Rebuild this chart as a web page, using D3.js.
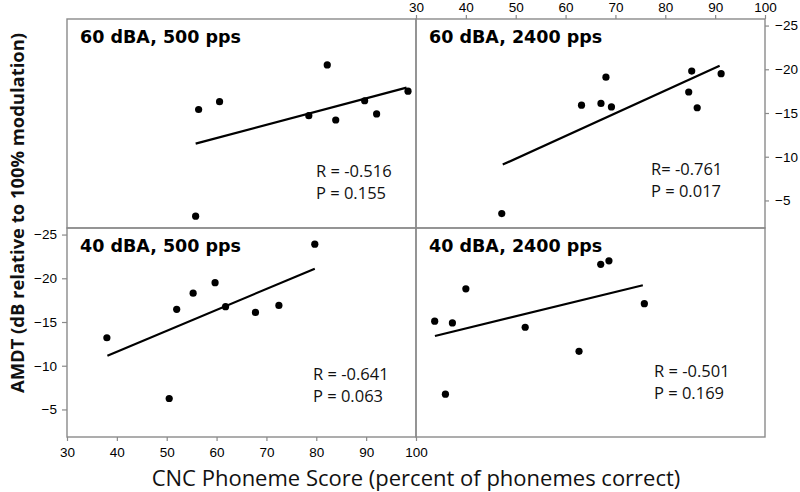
<!DOCTYPE html>
<html>
<head>
<meta charset="utf-8">
<script src="https://cdn.jsdelivr.net/npm/d3@7"></script>
<style>
  body { margin: 0; background: #fff; }
  svg { display: block; }
  .tick text { font-family: "Liberation Sans", Arial, sans-serif; font-size: 13.5px; fill: #000; }
  .tick line { stroke: #8a8a8a; stroke-width: 1.2; }
</style>
</head>
<body>
<svg width="800" height="492"></svg>
<script>
// ---- data ----
var panelTitles = ["60 dBA, 500 pps", "60 dBA, 2400 pps", "40 dBA, 500 pps", "40 dBA, 2400 pps"];
var rLabels = ["R = -0.516", "R= -0.761", "R = -0.641", "R = -0.501"];
var pLabels = ["P = 0.155", "P = 0.017", "P = 0.063", "P = 0.169"];

var p1X = [55.8, 56.4, 60.6, 78.5, 82.2, 83.9, 89.7, 92.1, 98.4];
var p1Y = [-3.2, -15.4, -16.3, -14.7, -20.5, -14.2, -16.4, -14.9, -17.5];
var fit1 = [[55.8, -11.5], [98.1, -17.9]];

var p2X = [47.2, 63.2, 67.1, 68.1, 69.2, 84.7, 85.3, 86.4, 91.2];
var p2Y = [-3.5, -15.9, -16.1, -19.1, -15.7, -17.4, -19.8, -15.6, -19.5];
var fit2 = [[47.4, -9.1], [90.9, -20.4]];

var p3X = [38.0, 50.5, 52.0, 55.3, 59.7, 61.8, 67.8, 72.5, 79.7];
var p3Y = [-13.2, -6.25, -16.45, -18.3, -19.5, -16.75, -16.1, -16.9, -23.9];
var fit3 = [[38.1, -11.15], [79.7, -21.1]];

var p4X = [33.75, 35.9, 37.3, 40.0, 51.9, 62.7, 67.05, 68.7, 75.8];
var p4Y = [-15.1, -6.75, -14.9, -18.8, -14.4, -11.65, -21.6, -22.0, -17.1];
var fit4 = [[33.8, -13.4], [75.5, -19.2]];

var xTicks = [30, 40, 50, 60, 70, 80, 90, 100];
var yTicks = [-25, -20, -15, -10, -5];
var xDomain = [30, 100];
var yDomain = [-1.85, -25.75];

var xTitle = "CNC Phoneme Score (percent of phonemes correct)";
var yTitle = "AMDT (dB relative to 100% modulation)";

// ---- layout ----
var leftX = 67, midX = 416, rightX = 765;
var topY = 19, midY = 228, bottomY = 437;

var svg = d3.select('svg');

var panels = [
  { x0: leftX, x1: midX, y0: topY, y1: midY, xs: p1X, ys: p1Y, fit: fit1 },
  { x0: midX, x1: rightX, y0: topY, y1: midY, xs: p2X, ys: p2Y, fit: fit2 },
  { x0: leftX, x1: midX, y0: midY, y1: bottomY, xs: p3X, ys: p3Y, fit: fit3 },
  { x0: midX, x1: rightX, y0: midY, y1: bottomY, xs: p4X, ys: p4Y, fit: fit4 }
];
var annoDx = [249, 235, 246, 238];
var annoDy = [158, 156, 152, 149];

panels.forEach(function (p, i) {
  p.x = d3.scaleLinear().domain(xDomain).range([p.x0, p.x1]);
  p.y = d3.scaleLinear().domain(yDomain).range([p.y1, p.y0]);
  var g = svg.append('g');

  g.append('rect')
    .attr('x', p.x0).attr('y', p.y0)
    .attr('width', p.x1 - p.x0).attr('height', p.y1 - p.y0)
    .attr('fill', 'none').attr('stroke', '#8a8a8a').attr('stroke-width', 1.4);

  g.append('text')
    .attr('x', p.x0 + 13).attr('y', p.y0 + 24)
    .attr('font-family', '"DejaVu Sans", sans-serif')
    .attr('font-weight', 'bold').attr('font-size', 17.5)
    .text(panelTitles[i]);

  g.append('line')
    .attr('x1', p.x(p.fit[0][0])).attr('y1', p.y(p.fit[0][1]))
    .attr('x2', p.x(p.fit[1][0])).attr('y2', p.y(p.fit[1][1]))
    .attr('stroke', '#000').attr('stroke-width', 2.2);

  g.selectAll('circle')
    .data(d3.zip(p.xs, p.ys))
    .enter()
    .append('circle')
    .attr('cx', function (d) { return p.x(d[0]); })
    .attr('cy', function (d) { return p.y(d[1]); })
    .attr('r', 3.6)
    .attr('fill', '#000');

  var t = g.append('text')
    .attr('font-family', '"Open Sans", sans-serif')
    .attr('font-size', 16.5).attr('fill', '#111');
  t.append('tspan').attr('x', p.x0 + annoDx[i]).attr('y', p.y0 + annoDy[i]).text(rLabels[i]);
  t.append('tspan').attr('x', p.x0 + annoDx[i]).attr('y', p.y0 + annoDy[i] + 22).text(pLabels[i]);
});

function styleAxis(g) {
  g.select('.domain').remove();
}

// bottom axis under bottom-left panel
svg.append('g')
  .attr('transform', 'translate(0,' + bottomY + ')')
  .call(d3.axisBottom(panels[2].x).tickValues(xTicks).tickSize(4).tickPadding(6))
  .call(styleAxis);

// top axis over top-right panel
svg.append('g')
  .attr('transform', 'translate(0,' + topY + ')')
  .call(d3.axisTop(panels[1].x).tickValues(xTicks).tickSize(4).tickPadding(3))
  .call(styleAxis);

// right axis beside top-right panel
svg.append('g')
  .attr('transform', 'translate(' + rightX + ',0)')
  .call(d3.axisRight(panels[1].y).tickValues(yTicks).tickSize(4).tickPadding(6))
  .call(styleAxis);

// left axis beside bottom-left panel
svg.append('g')
  .attr('transform', 'translate(' + leftX + ',0)')
  .call(d3.axisLeft(panels[2].y).tickValues(yTicks).tickSize(5).tickPadding(5))
  .call(styleAxis);

// axis titles
svg.append('text')
  .attr('x', (leftX + rightX) / 2).attr('y', 486)
  .attr('text-anchor', 'middle')
  .attr('font-family', '"Open Sans", sans-serif')
  .attr('font-size', 22).attr('fill', '#111')
  .text(xTitle);

svg.append('text')
  .attr('transform', 'translate(24,213) rotate(-90)')
  .attr('text-anchor', 'middle')
  .attr('font-family', '"Open Sans", sans-serif')
  .attr('font-weight', 'bold')
  .attr('font-size', 18.4).attr('fill', '#111')
  .text(yTitle);
</script>
</body>
</html>
